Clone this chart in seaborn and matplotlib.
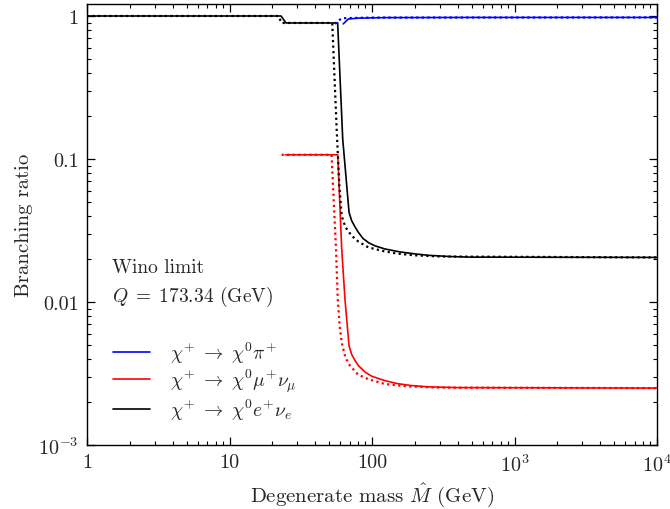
import numpy as np
import pandas as pd
import matplotlib
matplotlib.use("Agg")
import matplotlib.pyplot as plt
import seaborn as sns
from matplotlib.ticker import LogLocator, FixedLocator, FixedFormatter, NullFormatter

# ---- data ----
# black: chi+ -> chi0 e+ nu_e
e_solid_x = [1, 23.0, 24.9, 57.4, 62.3, 69.0, 72, 76, 80.2, 86.5, 95, 105, 123, 157, 200, 250, 350, 487, 10000]
e_solid_y = [1.0, 1.0, 0.894, 0.894, 0.138, 0.0424, 0.0370, 0.0335, 0.0307, 0.0278, 0.0259, 0.0247, 0.0235,
             0.0224, 0.0217, 0.0212, 0.0208, 0.0206, 0.0205]
e_dot_x = [1, 22.0, 23.2, 52.6, 56.5, 59.0, 61.3, 65, 71.9, 80, 94.2, 120, 150, 200, 300, 10000]
e_dot_y = [1.0, 1.0, 0.894, 0.894, 0.162, 0.065, 0.040, 0.0335, 0.0291, 0.0265, 0.0241, 0.0227, 0.0218,
           0.0212, 0.0208, 0.0205]

# red: chi+ -> chi0 mu+ nu_mu
mu_solid_x = [24.6, 57.5, 61.3, 64.6, 69.0, 72, 76, 80.2, 90, 100, 123, 150, 185, 250, 400, 10000]
mu_solid_y = [0.107, 0.107, 0.0235, 0.0105, 0.00494, 0.0043, 0.0039, 0.00359, 0.00322, 0.00302, 0.00282,
              0.00269, 0.00261, 0.00255, 0.00252, 0.0025]
mu_dot_x = [23.2, 52.0, 55.9, 57.5, 59.3, 61.3, 65, 70.0, 80, 94.0, 123, 180, 300, 10000]
mu_dot_y = [0.107, 0.107, 0.0235, 0.0105, 0.0068, 0.0052, 0.0041, 0.00359, 0.0031, 0.00289, 0.00267,
            0.00257, 0.00252, 0.0025]

# blue: chi+ -> chi0 pi+
pi_solid_x = [62.8, 68.2, 80.2, 123, 500, 10000]
pi_solid_y = [0.88, 0.953, 0.966, 0.974, 0.977, 0.977]
pi_dot_x = [55.0, 58.0, 62.0, 100, 10000]
pi_dot_y = [0.88, 0.93, 0.965, 0.975, 0.977]

labels = [r'$\chi^{+} \;\rightarrow\; \chi^{0}\pi^{+}$',
          r'$\chi^{+} \;\rightarrow\; \chi^{0}\mu^{+}\nu_{\mu}$',
          r'$\chi^{+} \;\rightarrow\; \chi^{0}e^{+}\nu_{e}$']
x_ticks = [1, 10, 100, 1000, 10000]
x_ticklabels = ['1', '10', '100', r'$10^3$', r'$10^4$']
y_ticks = [0.001, 0.01, 0.1, 1]
y_ticklabels = [r'$10^{-3}$', '0.01', '0.1', '1']

# ---- style ----
sns.set_style("ticks")
plt.rcParams['font.family'] = ['serif']
plt.rcParams['font.serif'] = ['cmr10', 'DejaVu Serif']
plt.rcParams['mathtext.fontset'] = 'cm'
plt.rcParams['axes.unicode_minus'] = False
plt.rcParams['axes.formatter.use_mathtext'] = True

fig = plt.figure(figsize=(6.70, 5.10), dpi=100)
ax = fig.add_axes([87/670, 1 - 446/510, (657-87)/670, (446-5)/510])

lw = 1.2
dot = (0, (1, 1.5))
sns.lineplot(x=pi_solid_x, y=pi_solid_y, color='blue', lw=lw, ax=ax, label=labels[0], sort=False, estimator=None)
sns.lineplot(x=mu_solid_x, y=mu_solid_y, color='red', lw=lw, ax=ax, label=labels[1], sort=False, estimator=None)
sns.lineplot(x=e_solid_x, y=e_solid_y, color='black', lw=lw, ax=ax, label=labels[2], sort=False, estimator=None)
sns.lineplot(x=pi_dot_x, y=pi_dot_y, color='blue', lw=1.6, linestyle=dot, ax=ax, sort=False, estimator=None)
sns.lineplot(x=mu_dot_x, y=mu_dot_y, color='red', lw=1.6, linestyle=dot, ax=ax, sort=False, estimator=None)
sns.lineplot(x=e_dot_x, y=e_dot_y, color='black', lw=1.6, linestyle=dot, ax=ax, sort=False, estimator=None)

ax.set_xscale('log')
ax.set_yscale('log')
ax.set_xlim(1, 10000)
ax.set_ylim(0.001, 1.213)

ax.xaxis.set_major_locator(FixedLocator(x_ticks))
ax.xaxis.set_major_formatter(FixedFormatter(x_ticklabels))
ax.yaxis.set_major_locator(FixedLocator(y_ticks))
ax.yaxis.set_major_formatter(FixedFormatter(y_ticklabels))
ax.xaxis.set_minor_locator(LogLocator(base=10, subs=np.arange(2, 10), numticks=50))
ax.yaxis.set_minor_locator(LogLocator(base=10, subs=np.arange(2, 10), numticks=50))
ax.xaxis.set_minor_formatter(NullFormatter())
ax.yaxis.set_minor_formatter(NullFormatter())

ax.tick_params(which='both', direction='in', top=True, right=True, labelsize=14.5, color='black')
ax.tick_params(which='major', length=6, width=0.9, pad=6)
ax.tick_params(which='minor', length=3, width=0.8)
for s in ax.spines.values():
    s.set_linewidth(1.0)
    s.set_color('black')

ax.set_xlabel(r'Degenerate mass $\hat{M}$ (GeV)', fontsize=15)
ax.set_ylabel('Branching ratio', fontsize=15)

fig.text(112/670, 1 - 268/510, 'Wino limit', fontsize=14, va='center', ha='left')
fig.text(112/670, 1 - 297/510, r'$Q\;=\;173.34$ (GeV)', fontsize=14, va='center', ha='left')

leg = ax.legend(loc='upper left', bbox_to_anchor=((95-87)/570, (446-323)/441), frameon=False,
                fontsize=14, handlelength=1.95, handletextpad=1.0, labelspacing=0.1)

fig.savefig('out.png', dpi=100)
